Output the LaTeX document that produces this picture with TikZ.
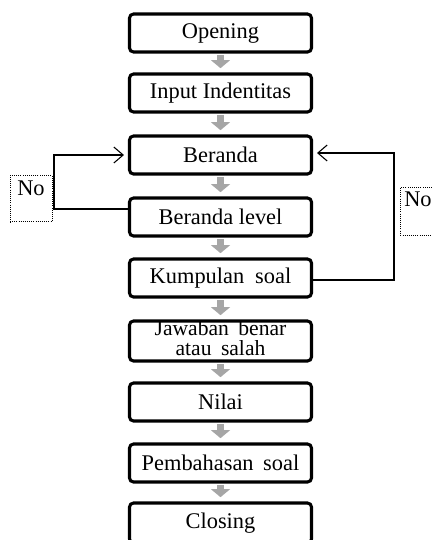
\documentclass[tikz,border=0pt]{standalone}
\usepackage{fontspec}
\setmainfont{Liberation Serif}
\usetikzlibrary{arrows.meta,positioning,calc}
\definecolor{flowgray}{HTML}{A6A6A6}
\newcommand{\boxfont}{\fontsize{16.8}{15}\selectfont}
\tikzset{
  stepbox/.style={draw=black, line width=2.3pt, rounded corners=3pt,
    minimum width=182*0.75pt, minimum height=38*0.75pt, inner sep=0pt,
    font=\boxfont, align=center},
  flowarrow/.style={draw=flowgray, line width=5.6pt,
    -{Triangle[length=6pt 0 0,width=14pt 0 0]}, shorten >=2pt},
  loopline/.style={draw=black, line width=0.8pt,
    -{Straight Barb[length=7pt 0 0,width=12pt 0 0,line width=0.8pt]}, shorten >=3pt},
  nobox/.style={draw=black, densely dotted, line width=0.6pt, inner sep=0pt},
  notext/.style={font=\boxfont, inner sep=0pt},
  jawtext/.style={font=\fontsize{16.2}{16}\selectfont, inner sep=0pt, anchor=base}
}
\begin{document}
\begin{tikzpicture}[x=0.75pt,y=-0.75pt]
\useasboundingbox (0,0) rectangle (432,540);
\node[stepbox] (open) at (220.5,33) {Opening};
\node[stepbox] (inp) at (220.5,93) {Input Indentitas};
\node[stepbox] (ber) at (220.5,155) {Beranda};
\node[stepbox] (bl) at (220.5,217) {Beranda level};
\node[stepbox] (kum) at (220.5,278) {Kumpulan\hspace{4pt} soal};
\node[stepbox, minimum height=30pt] (jaw) at (220.5,341) {};
\node[jawtext] (jaw1) at (220.5,335.5) {Jawaban\hspace{3pt} benar};
\node[jawtext] (jaw2) at (220.5,355) {atau\hspace{3pt} salah};
\node[stepbox] (nil) at (220.5,402) {Nilai};
\node[stepbox] (pem) at (220.5,463) {Pembahasan\hspace{3pt} soal};
\node[stepbox, minimum height=30pt] (clo) at (220.5,523) {Closing};

\foreach \a/\b in {open/inp, inp/ber, ber/bl, bl/kum, kum/jaw, jaw/nil, nil/pem, pem/clo}
  \draw[flowarrow] ([yshift=-1.2pt]\a.south) -- ([yshift=1.2pt]\b.north);

% left loop
\node[nobox, minimum width=31.5pt, minimum height=35pt] (noL) at (31,198.5) {};
\node[notext] (noLt) at (31,188) {No};
\coordinate (lc) at (54,209);
\draw[loopline] (bl.west |- lc) -- (lc) |- (ber.west);

% right loop
\node[nobox, minimum width=33pt, minimum height=36pt, anchor=north west] (noR) at (400,187) {};
\node[notext, anchor=west] (noRt) at (404,199) {No};
\coordinate (rc) at (394,280);
\draw[loopline] (kum.east |- rc) -- (rc) |- ([yshift=1.5pt]ber.east);
\end{tikzpicture}
\end{document}
